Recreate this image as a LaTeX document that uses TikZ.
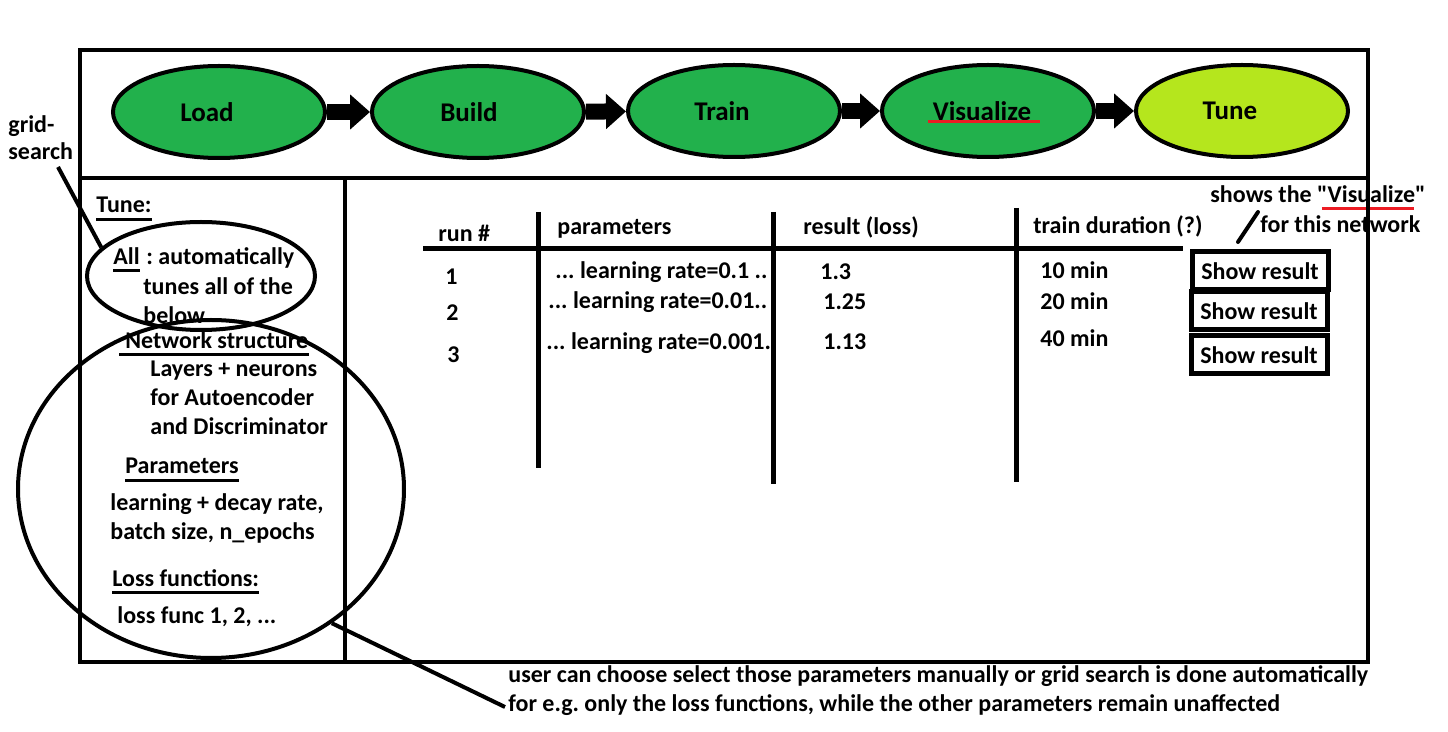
\documentclass[tikz,border=0pt]{standalone}
\usepackage{fontspec}
\setmainfont{Carlito}[Ligatures = TeXOff]
\frenchspacing
\usetikzlibrary{shapes.geometric, arrows.meta}
\definecolor{stagegreen}{HTML}{22B14C}
\definecolor{tunegreen}{HTML}{B5E61D}
\definecolor{markred}{HTML}{ED1C24}
\tikzstyle{stage} = [ellipse, draw, line width = 2pt, fill = stagegreen, minimum width = 106pt, minimum height = 46pt, inner sep = 0pt, font = \fontsize{13.5}{15}\selectfont\bfseries]
\tikzstyle{flow} = [line width = 8pt, -{Triangle[length = 10pt, width = 17pt]}]
\tikzstyle{txt} = [anchor = west, inner sep = 0pt, align = left, font = \fontsize{12}{14.5}\selectfont\bfseries]
\tikzstyle{ring} = [ellipse, draw, line width = 2pt, inner sep = 0pt]
\tikzstyle{button} = [draw, line width = 2.5pt, minimum width = 68pt, minimum height = 19pt, inner sep = 0pt, font = \fontsize{12}{13}\selectfont\bfseries]
\tikzstyle{rule} = [line width = 1.5pt]
\tikzstyle{pointer} = [line width = 2pt]
\tikzstyle{redmark} = [line width = 1.5pt, draw = markred]

\begin{document}
\begin{tikzpicture}[x = 0.5pt, y = -0.5pt]
    \useasboundingbox (0, 0) rectangle (1448, 732);

    % pipeline
    \node (load) at (219, 112) [stage] {Load\kern 12pt};
    \node (build) at (478, 112) [stage] {Build\kern 9pt};
    \node (train) at (734, 111) [stage] {Train\kern 12pt};
    \node (visualize) at (988, 111) [stage] {Visualize\kern 6pt};
    \node (tune) at (1242, 111) [stage, fill = tunegreen] {Tune\kern 12pt};
    \draw [flow] (load) -- (build);
    \draw [flow] (build) -- (train);
    \draw [flow] (train) -- (visualize);
    \draw [flow] (visualize) -- (tune);
    \draw [redmark] ([xshift = -30pt, yshift = -5.5pt]visualize.center) -- ([xshift = 26pt, yshift = -5.5pt]visualize.center);

    % tune panel
    \node (grid) at (8, 138) [txt, font = \fontsize{12}{13.5}\selectfont\bfseries] {grid-\\search};
    \coordinate (grid foot) at (58, 167);
    \node (tune head) at (96, 205) [txt] {Tune:};
    \node (all) at (113, 256) [txt] {All};
    \node (auto) at (146, 258) [txt] {: automatically};
    \node (tunes) at (143, 301) [txt] {tunes all of the\\below};
    \node (net) at (125, 340) [txt] {Network structure};
    \node (layers) at (150, 398) [txt] {Layers + neurons\\for Autoencoder\\and Discriminator};
    \node (params) at (125, 466) [txt] {Parameters};
    \node (rates) at (110, 518) [txt] {learning + decay rate,\\batch size, n\_epochs};
    \node (loss) at (112, 578) [txt] {Loss functions:};
    \node (funcs) at (117, 617) [txt] {loss func 1, 2, ...};
    \node (all ring) at (201, 276) [ring, minimum width = 114pt, minimum height = 54pt] {};
    \node (big ring) at (211, 489) [ring, minimum width = 193pt, minimum height = 169pt] {};
    \draw [rule] ([yshift = -3pt]tune head.south west) -- ([yshift = -3pt]tune head.south east);
    \draw [rule] ([yshift = -3pt]all.south west) -- ([yshift = -3pt]all.south east);
    \draw [rule] ([xshift = -3pt, yshift = -3pt]net.south west) -- ([yshift = -3pt]net.south east);
    \draw [rule] ([yshift = -3pt]params.south west) -- ([yshift = -3pt]params.south east);
    \draw [rule] ([yshift = -3pt]loss.south west) -- ([yshift = -3pt]loss.south east);
    \draw [pointer] (grid foot) -- (all ring.164);

    % runs table
    \node (h run) at (438, 233) [txt] {run \#};
    \node (h params) at (557, 229) [txt] {parameters};
    \node (h result) at (803, 227) [txt] {result (loss)};
    \node (h time) at (1033, 226) [txt] {train duration (?)};
    \draw [line width = 2.5pt] (423, 249) -- (1183, 249);
    \draw [line width = 2.5pt] (538, 212) -- (538, 468);
    \draw [line width = 2.5pt] (773, 212) -- (773, 484);
    \draw [line width = 2.5pt] (1016, 208) -- (1016, 482);
    \node (run1) at (445, 277) [txt] {1};
    \node (run2) at (446, 313) [txt] {2};
    \node (run3) at (447, 355) [txt] {3};
    \node (par1) at (555, 272) [txt] {... learning rate=0.1 ..};
    \node (par2) at (548, 302) [txt] {... learning rate=0.01..};
    \node (par3) at (546, 343) [txt] {... learning rate=0.001.};
    \node (res1) at (820, 272) [txt] {1.3};
    \node (res2) at (823, 302) [txt] {1.25};
    \node (res3) at (823, 342) [txt] {1.13};
    \node (dur1) at (1040, 270) [txt] {10 min};
    \node (dur2) at (1040, 301) [txt] {20 min};
    \node (dur3) at (1040, 338) [txt] {40 min};
    \node (show1) at (1260, 271) [button] {Show result};
    \node (show2) at (1259, 311) [button] {Show result};
    \node (show3) at (1259, 355) [button] {Show result};

    % notes
    \node (shows note) at (1210, 194) [txt] {shows the "Visualize"};
    \node (network note) at (1260, 224) [txt] {for this network};
    \draw [redmark] ([xshift = -52pt, yshift = -3pt]shows note.south east) -- ([xshift = -6pt, yshift = -3pt]shows note.south east);
    \coordinate (vis foot) at (1238, 242);
    \coordinate (vis head) at (1258, 212);
    \draw [pointer, line cap = round] (vis foot) -- (vis head);
    \node (user note) at (508, 691) [txt] {user can choose select those parameters manually or grid search is done automatically\\for e.g. only the loss functions, while the other parameters remain unaffected};
    \coordinate (note foot) at (505, 707);
    \draw [pointer] (big ring.-48) -- (note foot);

    % frame
    \draw [line width = 2pt] (80, 50) rectangle (1368, 662);
    \draw [line width = 2pt] (80, 178) -- (1368, 178);
    \draw [line width = 2pt] (345, 178) -- (345, 662);
\end{tikzpicture}
\end{document}
